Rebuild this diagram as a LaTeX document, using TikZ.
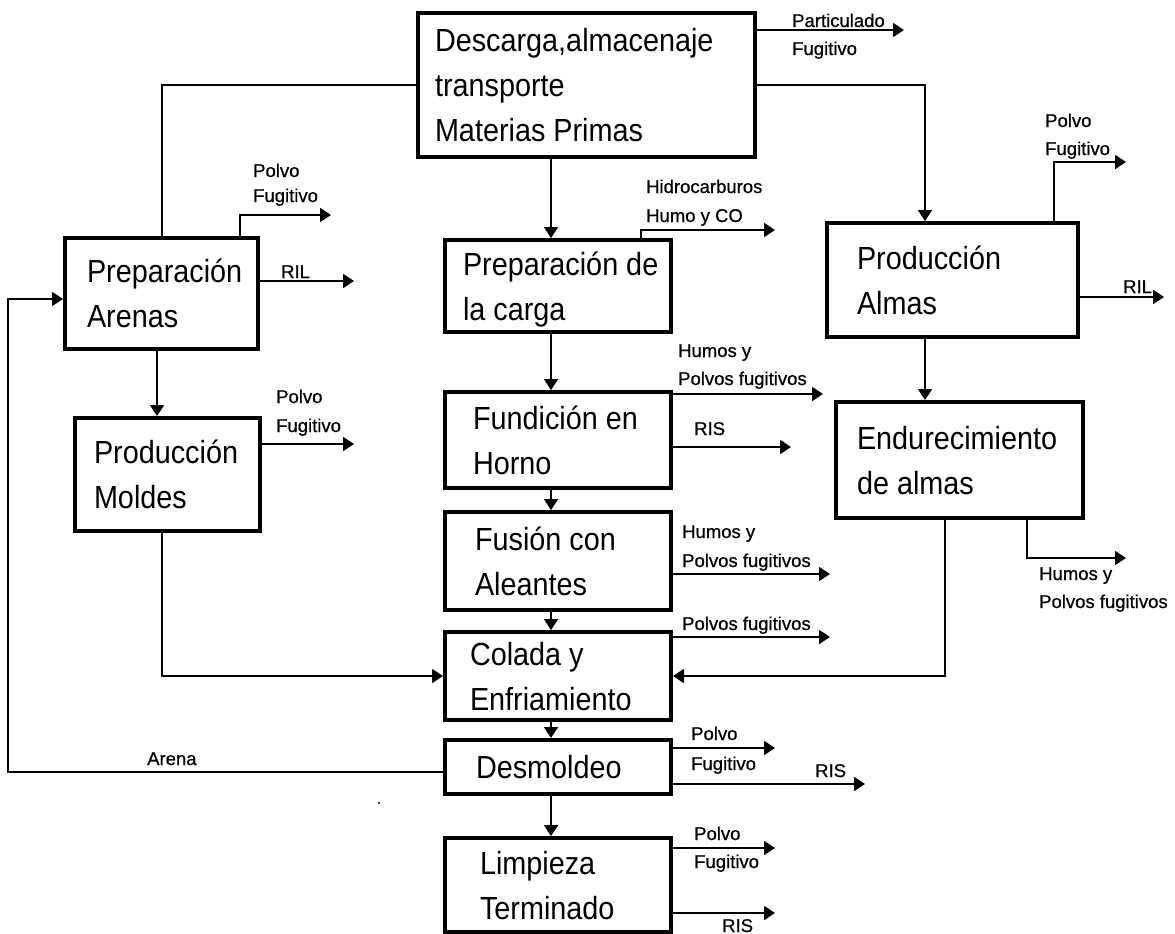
\documentclass[tikz,border=0pt]{standalone}
\usepackage{fontspec}
\setmainfont{Liberation Sans}
\newfontfamily\boxfont[FakeStretch=0.9]{Liberation Sans}
\newfontfamily\lblfont[FakeBold=0.6]{Liberation Sans}
\usetikzlibrary{arrows.meta}
\newcommand\strA{\rule{0pt}{30pt}}
\newcommand\strB{\rule[-7pt]{0pt}{7pt}}
\begin{document}
\begin{tikzpicture}[x=1pt,y=-1pt,
  box/.style={draw, line width=4pt, inner ysep=0pt, align=flush left,
    font=\boxfont\fontsize{32}{45}\selectfont},
  lbl/.style={inner sep=0pt, anchor=base west, font=\lblfont\fontsize{18.5}{20}\selectfont},
  con/.style={line width=1.8pt},
  arr/.style={con, -{Triangle[length=11pt,width=14pt]}}]
\fill[white] (0,0) rectangle (1175,934);
\useasboundingbox (0,0) rectangle (1175,934);

% boxes
\node[box, text width=303pt, inner xsep=17pt, minimum height=144pt] (desc) at (586.5,85) {\strA Descarga,almacenaje\\transporte\\\mbox{Materias Primas}\strB};
\node[box, text width=149pt, inner xsep=22pt, minimum height=111pt] (arenas) at (161.5,293.5) {\strA Preparación\\Arenas\strB};
\node[box, text width=147pt, inner xsep=19pt, minimum height=113pt] (moldes) at (167.5,474.5) {\strA Producción\\Moldes\strB};
\node[box, text width=190pt, inner xsep=18pt, minimum height=92pt] (carga) at (558,286) {\strA \mbox{Preparación de}\\\mbox{la carga}\strB};
\node[box, text width=170pt, inner xsep=28pt, minimum height=96pt] (fund) at (558,440) {\strA \mbox{Fundición en}\\Horno\strB};
\node[box, text width=166pt, inner xsep=30pt, minimum height=98pt] (fus) at (558,561) {\strA \mbox{Fusión con}\\Aleantes\strB};
\node[box, text width=176pt, inner xsep=25pt, minimum height=88pt] (col) at (558,676) {\strA \mbox{Colada y}\\Enfriamiento\strB};
\node[box, text width=164pt, inner xsep=31pt, minimum height=54pt] (desm) at (558,767) {\strA Desmoldeo\strB};
\node[box, text width=156pt, inner xsep=35pt, minimum height=94pt] (limp) at (558,885) {\strA Limpieza\\Terminado\strB};
\node[box, text width=191pt, inner xsep=30pt, minimum height=114pt] (almas) at (952.5,280) {\strA Producción\\Almas\strB};
\node[box, text width=205pt, inner xsep=21pt, minimum height=116pt] (endu) at (959.5,460) {\strA Endurecimiento\\\mbox{de almas}\strB};

% column coordinates
\coordinate (cx) at (551,0);
\coordinate (ax) at (925,0);
\coordinate (mx) at (157,0);
\coordinate (mx2) at (162,0);
\coordinate (ex) at (945,0);

% main flow
\draw[arr] (desc.south -| cx) -- (carga.north -| cx);
\draw[arr] (carga.south -| cx) -- (fund.north -| cx);
\draw[arr] (fund.south -| cx) -- (fus.north -| cx);
\draw[arr] (fus.south -| cx) -- (col.north -| cx);
\draw[arr] (col.south -| cx) -- (desm.north -| cx);
\draw[arr] (desm.south -| cx) -- (limp.north -| cx);
\draw[con] (desc.west) -| (arenas.north -| mx2);
\draw[arr] (desc.east) -| (almas.north -| ax);
\draw[arr] (almas.south -| ax) -- (endu.north -| ax);
\draw[arr] (arenas.south -| mx) -- (moldes.north -| mx);
\draw[arr] (moldes.south -| mx2) |- (col.west);
\draw[arr] (endu.south -| ex) |- (col.east);

% sand return loop
\coordinate (lb) at (8,772);
\coordinate (lt) at (8,299);
\draw[arr] (desm.west |- lb) -- (lb) -- (lt) -- (arenas.west |- lt);
\node[lbl] (arena) at (147,765) {Arena};

% emissions
\coordinate (o1) at (904,30);
\draw[arr] (desc.east |- o1) -- (o1);
\node[lbl] (l1a) at (792,27) {Particulado};
\node[lbl] (l1b) at (792,55) {Fugitivo};

\coordinate (o2a) at (240,215); \coordinate (o2) at (331,215);
\draw[arr] (arenas.north -| o2a) -- (o2a) -- (o2);
\node[lbl] (l2a) at (253,177) {Polvo};
\node[lbl] (l2b) at (253,202) {Fugitivo};

\coordinate (o3) at (354,281);
\draw[arr] (arenas.east |- o3) -- (o3);
\node[lbl] (l3) at (281,278) {RIL};

\coordinate (o4) at (354,444);
\draw[arr] (moldes.east |- o4) -- (o4);
\node[lbl] (l4a) at (276,403) {Polvo};
\node[lbl] (l4b) at (276,432) {Fugitivo};

\coordinate (o5a) at (641,230); \coordinate (o5) at (775,230);
\draw[arr] (carga.north -| o5a) -- (o5a) -- (o5);
\node[lbl] (l5a) at (646,193) {Hidrocarburos};
\node[lbl] (l5b) at (646,222) {Humo y CO};

\coordinate (o6) at (823,394);
\draw[arr] (fund.east |- o6) -- (o6);
\node[lbl] (l6a) at (678,357) {Humos y};
\node[lbl] (l6b) at (678,385) {Polvos fugitivos};

\coordinate (o7) at (791,447);
\draw[arr] (fund.east |- o7) -- (o7);
\node[lbl] (l7) at (694,435) {RIS};

\coordinate (o8) at (830,574);
\draw[arr] (fus.east |- o8) -- (o8);
\node[lbl] (l8a) at (682,538) {Humos y};
\node[lbl] (l8b) at (682,567) {Polvos fugitivos};

\coordinate (o9) at (830,637);
\draw[arr] (col.east |- o9) -- (o9);
\node[lbl] (l9) at (682,630) {Polvos fugitivos};

\coordinate (o10) at (775,748);
\draw[arr] (desm.east |- o10) -- (o10);
\node[lbl] (l10a) at (691,740) {Polvo};
\node[lbl] (l10b) at (691,770) {Fugitivo};

\coordinate (o11) at (865,784);
\draw[arr] (desm.east |- o11) -- (o11);
\node[lbl] (l11) at (815,777) {RIS};

\coordinate (o12) at (775,848);
\draw[arr] (limp.east |- o12) -- (o12);
\node[lbl] (l12a) at (694,840) {Polvo};
\node[lbl] (l12b) at (694,868) {Fugitivo};

\coordinate (o13) at (775,913);
\draw[arr] (limp.east |- o13) -- (o13);
\node[lbl] (l13) at (722,932) {RIS};

\coordinate (o14a) at (1054,162); \coordinate (o14) at (1126,162);
\draw[arr] (almas.north -| o14a) -- (o14a) -- (o14);
\node[lbl] (l14a) at (1045,127) {Polvo};
\node[lbl] (l14b) at (1045,155) {Fugitivo};

\coordinate (o15) at (1164,297);
\draw[arr] (almas.east |- o15) -- (o15);
\node[lbl] (l15) at (1123,293) {RIL};

\coordinate (o16a) at (1027,558); \coordinate (o16) at (1126,558);
\draw[arr] (endu.south -| o16a) -- (o16a) -- (o16);
\node[lbl] (l16a) at (1039,580) {Humos y};
\node[lbl] (l16b) at (1039,608) {Polvos fugitivos};

\fill (379,803) circle (1.2pt);
\end{tikzpicture}
\end{document}
